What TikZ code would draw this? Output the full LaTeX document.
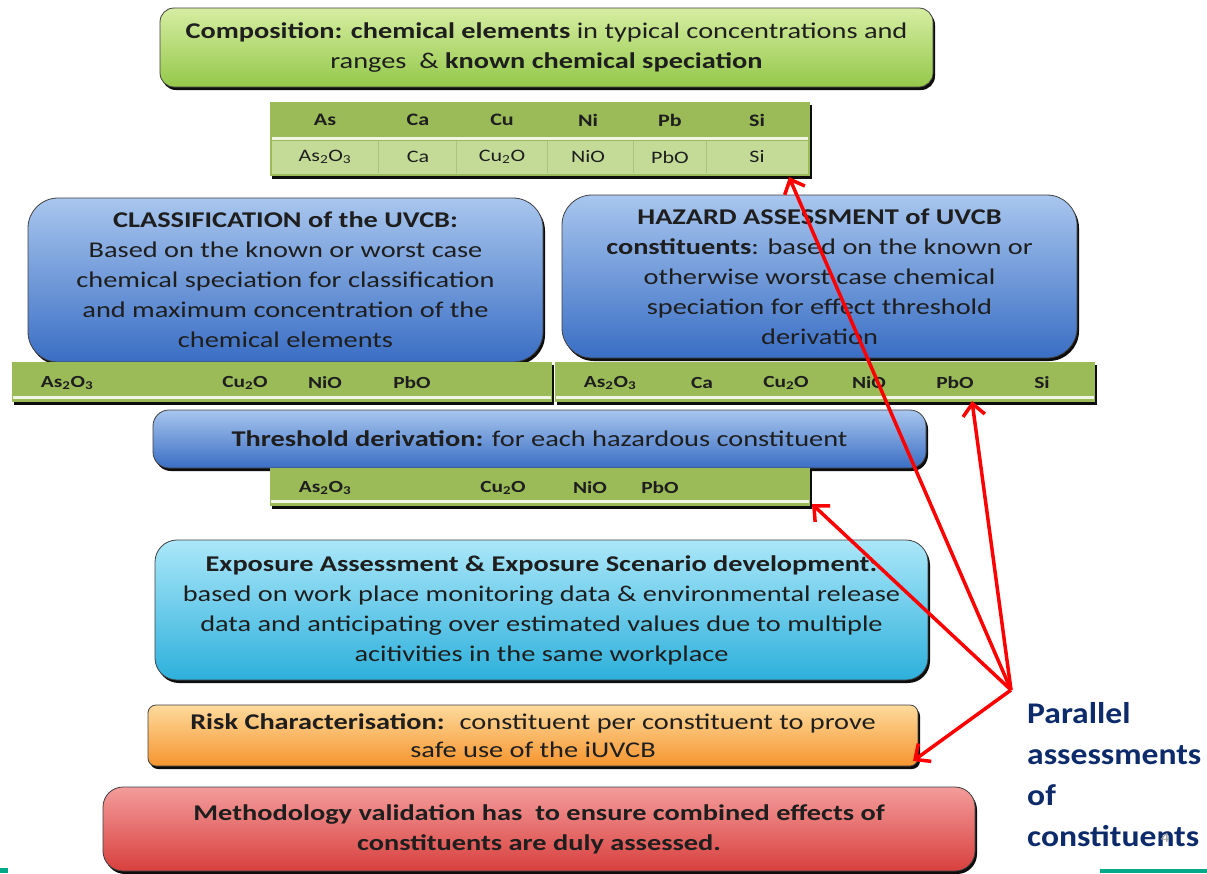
\documentclass[tikz,border=0pt]{standalone}
\usepackage{fontspec}
\setmainfont{Carlito}[FakeStretch=1.26]
\newfontfamily\parfont{Carlito}[FakeStretch=1.12]
\usetikzlibrary{arrows.meta,shadows}
\definecolor{txt}{HTML}{1E1E1E}
\definecolor{grT}{HTML}{D6EDA2}
\definecolor{grB}{HTML}{94C84A}
\definecolor{tabD}{HTML}{9BBB59}
\definecolor{tabL}{HTML}{C4DB98}
\definecolor{tabLine}{HTML}{A9C47C}
\definecolor{blT}{HTML}{A8C6EE}
\definecolor{blB}{HTML}{3A6EC4}
\definecolor{cyT}{HTML}{ABE7F9}
\definecolor{cyB}{HTML}{2DB0DB}
\definecolor{orT}{HTML}{FDDA9C}
\definecolor{orB}{HTML}{F6952F}
\definecolor{rdT}{HTML}{F39C9B}
\definecolor{rdB}{HTML}{D8403E}
\definecolor{navy}{HTML}{0D2A6B}
\definecolor{teal}{HTML}{00A88A}
\definecolor{arr}{HTML}{FF0000}
\tikzset{
  box/.style={draw=black!75, line width=0.8pt, align=center, text=txt, inner sep=0pt,
    font=\fontsize{22.5}{30}\selectfont,
    drop shadow={shadow xshift=2pt, shadow yshift=-3pt, opacity=0.95, fill=black}},
  bar/.style={fill=tabD, draw=none, inner sep=0pt,
    drop shadow={shadow xshift=2pt, shadow yshift=-3pt, opacity=0.95, fill=black}},
  strip/.style={fill=white!85!tabD, draw=none, inner sep=0pt},
  cell/.style={text=txt, font=\fontsize{17}{19}\selectfont\bfseries, inner sep=0pt},
  tcell/.style={text=txt, font=\fontsize{17.5}{19}\selectfont\bfseries, inner sep=0pt},
  tcellL/.style={text=txt, font=\fontsize{17.5}{19}\selectfont, inner sep=0pt},
  parr/.style={draw=arr, line width=3.5pt, -{Straight Barb[length=12pt,width=22pt,line width=3.5pt]}}
}
\newcommand{\sbs}[1]{\textsubscript{#1}}
\begin{document}
\begin{tikzpicture}[x=1pt,y=-1pt]
\useasboundingbox (0,0) rectangle (1207,873);
\fill[white] (0,0) rectangle (1207,873);

% Composition
\node[box, rounded corners=14pt, top color=grT, bottom color=grB, minimum width=773pt, minimum height=79pt] (comp) at (546.5,47.5)
 {\textbf{Composition: chemical elements} in typical concentrations and\\ ranges \ \& \textbf{known chemical speciation}};

% Table
\node[bar, minimum width=540pt, minimum height=74pt] (tab) at (540,139) {};
\node[strip, minimum width=536pt, minimum height=3pt] (tabsep) at (540,138.5) {};
\node[fill=tabL, inner sep=0pt, minimum width=536pt, minimum height=33pt] (tabrow) at (540,157) {};
\foreach \x in {378,456,547,633,706}{
  \draw[tabLine, line width=1pt] (\x,141) -- (\x,173);
}
\node[tcell] (h1) at (325,120) {As};
\node[tcell] (h2) at (418,120) {Ca};
\node[tcell] (h3) at (502,120) {Cu};
\node[tcell] (h4) at (588,120) {Ni};
\node[tcell] (h5) at (670,120) {Pb};
\node[tcell] (h6) at (757,120) {Si};
\node[tcellL] (r1) at (325,157) {As\sbs{2}O\sbs{3}};
\node[tcellL] (r2) at (418,157) {Ca};
\node[tcellL] (r3) at (502,157) {Cu\sbs{2}O};
\node[tcellL] (r4) at (588,157) {NiO};
\node[tcellL] (r5) at (670,157) {PbO};
\node[tcellL] (r6) at (757,157) {Si};

% Classification & Hazard
\node[box, rounded corners=30pt, top color=blT, bottom color=blB, minimum width=515pt, minimum height=164pt] (cls) at (285.5,280)
 {\textbf{CLASSIFICATION of the UVCB:}\\ Based on the known or worst case\\ chemical speciation for classification\\ and maximum concentration of the\\ chemical elements};
\node[box, rounded corners=30pt, top color=blT, bottom color=blB, minimum width=515pt, minimum height=163pt] (haz) at (819.5,276.5)
 {\textbf{HAZARD ASSESSMENT of UVCB}\\ \textbf{constituents}: based on the known or\\ otherwise worst case chemical\\ speciation for effect threshold\\ derivation};

% Bars under classification/hazard
\node[bar, minimum width=540pt, minimum height=40pt] (lbar) at (282,382) {};
\node[strip, minimum width=538pt, minimum height=3pt] (lstrip) at (282,397) {};
\node[bar, minimum width=540pt, minimum height=40pt] (rbar) at (825,382) {};
\node[strip, minimum width=538pt, minimum height=3pt] (rstrip) at (825,397) {};
\node[cell] (l1) at (67,383) {As\sbs{2}O\sbs{3}};
\node[cell] (l2) at (245,383) {Cu\sbs{2}O};
\node[cell] (l3) at (325,383) {NiO};
\node[cell] (l4) at (412,383) {PbO};
\node[cell] (q1) at (610,383) {As\sbs{2}O\sbs{3}};
\node[cell] (q2) at (702,383) {Ca};
\node[cell] (q3) at (786,383) {Cu\sbs{2}O};
\node[cell] (q4) at (869,383) {NiO};
\node[cell] (q5) at (955,383) {PbO};
\node[cell] (q6) at (1042,383) {Si};

% Threshold
\node[box, rounded corners=16pt, top color=blT, bottom color=blB, minimum width=773pt, minimum height=58pt] (thr) at (539.5,439)
 {\textbf{Threshold derivation:} for each hazardous constituent};
\node[bar, minimum width=540pt, minimum height=38pt] (tbar) at (540,487) {};
\node[strip, minimum width=538pt, minimum height=3pt] (tstrip) at (540,501) {};
\node[cell] (t1) at (325,488) {As\sbs{2}O\sbs{3}};
\node[cell] (t2) at (503,488) {Cu\sbs{2}O};
\node[cell] (t3) at (590,488) {NiO};
\node[cell] (t4) at (660,488) {PbO};

% Exposure
\node[box, rounded corners=22pt, top color=cyT, bottom color=cyB, minimum width=773pt, minimum height=140pt] (exp) at (541.5,610)
 {\textbf{Exposure Assessment \& Exposure Scenario development:}\\ based on work place monitoring data \& environmental release\\ data and anticipating over estimated values due to multiple\\ acitivities in the same workplace};

% Risk
\node[box, rounded corners=8pt, top color=orT, bottom color=orB, minimum width=770pt, minimum height=61pt, font=\fontsize{22.5}{28}\selectfont] (risk) at (533,735.5)
 {\textbf{Risk Characterisation:} \ constituent per constituent to prove\\ safe use of the iUVCB};

% Methodology
\node[box, rounded corners=20pt, top color=rdT, bottom color=rdB, minimum width=872pt, minimum height=84pt] (meth) at (539,829)
 {\textbf{Methodology validation has \ to ensure combined effects of}\\ \textbf{constituents are duly assessed.}};

% Parallel text
\node[anchor=west, align=left, text=navy, inner sep=0pt, font=\parfont\fontsize{30}{41}\selectfont\bfseries] (par) at (1027,775)
 {Parallel\\ assessments\\ of\\ constituents};
\node[text=black!40, font=\fontsize{14}{16}\selectfont, inner sep=0pt] (pnum) at (1165,838) {4};

% Arrows
\coordinate (hub) at (1011,690);
\coordinate (aT) at (789,177);
\coordinate (aP) at (972,401);
\coordinate (aD) at (812,504);
\coordinate (aR) at (913,761);
\draw[parr] (hub) -- (aT);
\draw[parr] (hub) -- (aP);
\draw[parr] (hub) -- (aD);
\draw[parr] (hub) -- (aR);

% teal lines
\fill[teal] (0,868) rectangle (8,873);
\fill[teal] (1100,869) rectangle (1207,873);
\end{tikzpicture}
\end{document}
